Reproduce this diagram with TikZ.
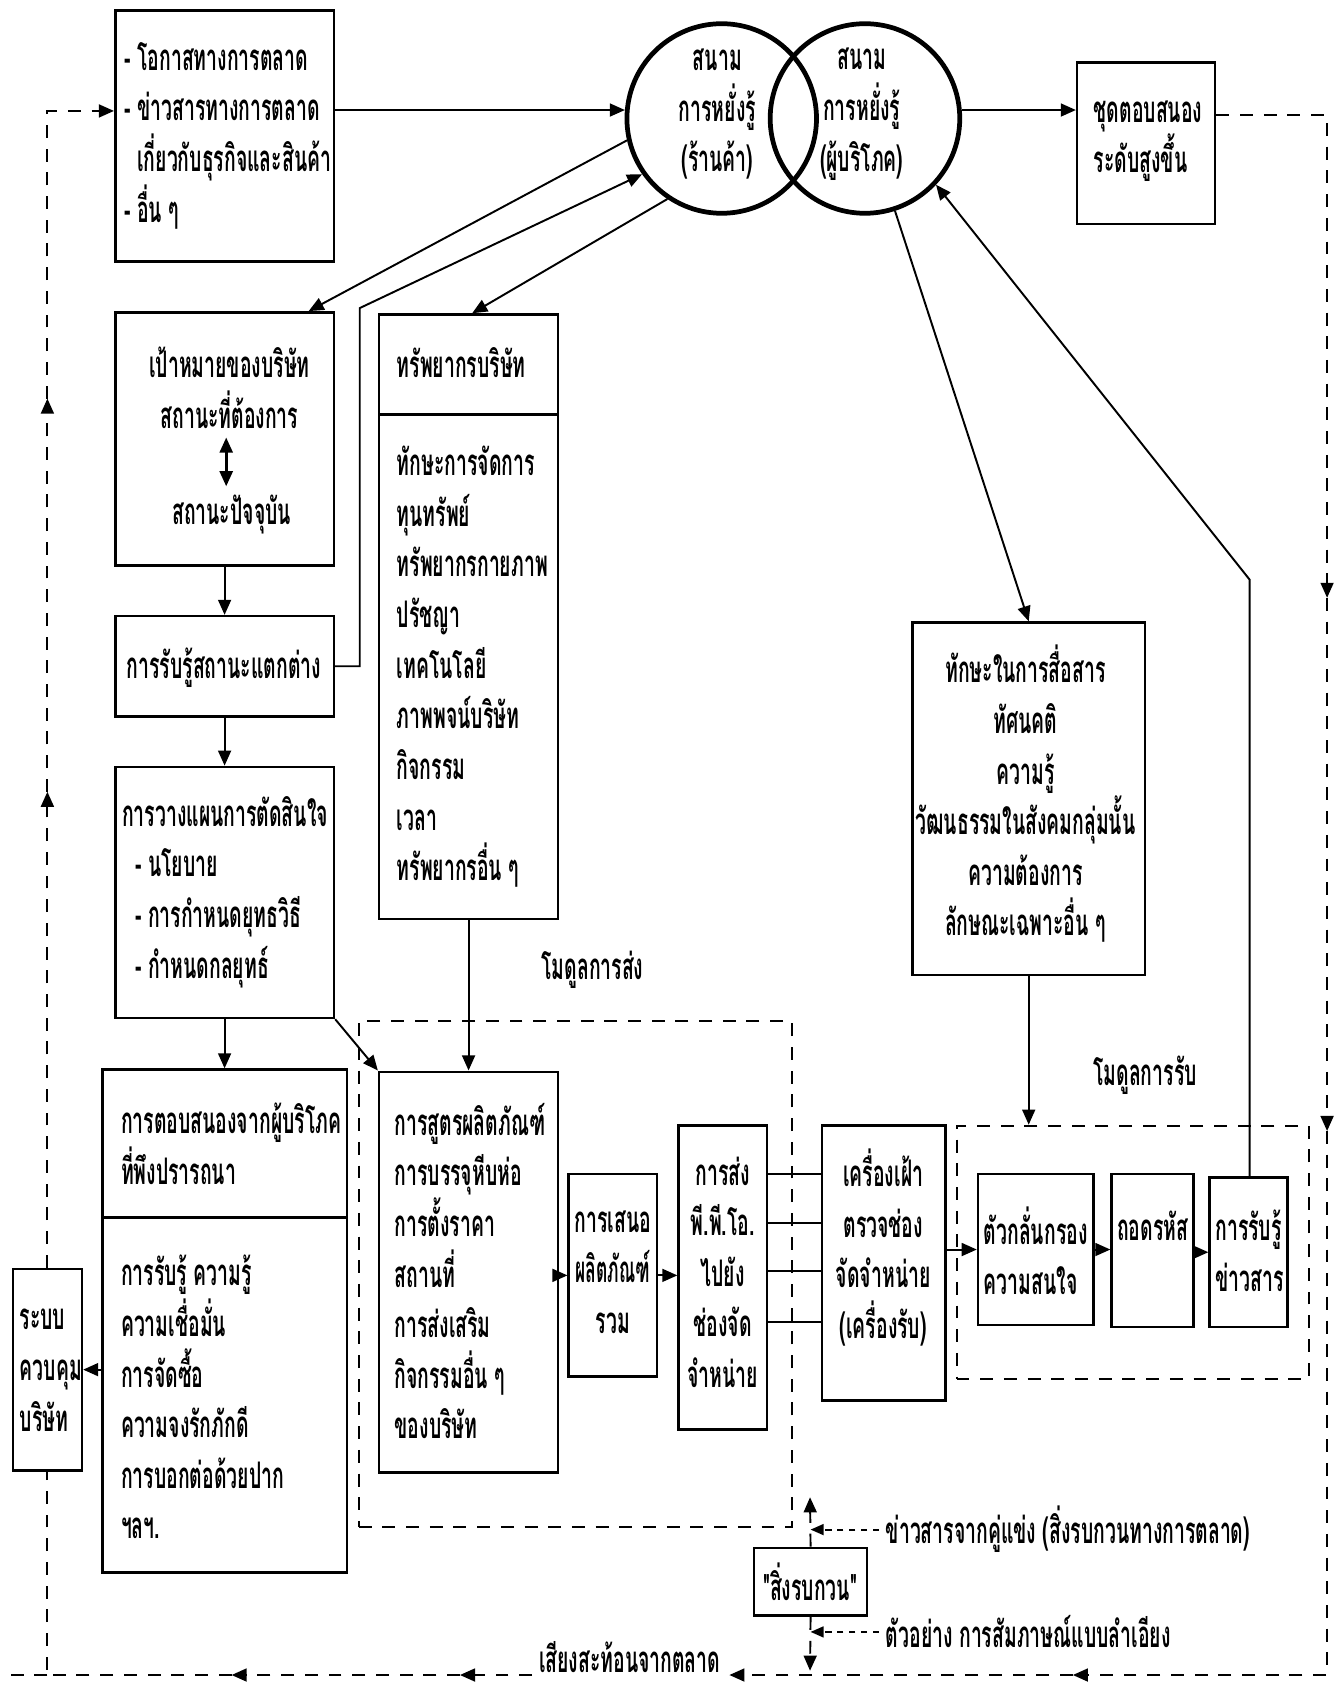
\documentclass[tikz,border=0pt]{standalone}
\usepackage{fontspec}
\usetikzlibrary{arrows.meta,fit,calc}
\newfontfamily\thai[Script=Thai,FakeStretch=0.53]{Loma}
\newcommand{\tf}{\thai\bfseries\fontsize{17}{23.5}\selectfont}
\begin{document}
\begin{tikzpicture}[x=0.5pt,y=-0.5pt,
  box/.style={draw,line width=1.2pt,inner sep=0pt},
  dbox/.style={draw,line width=0.9pt,dash pattern=on 6pt off 5pt,inner sep=0pt},
  txt/.style={font=\tf,inner sep=0pt,align=left},
  ctxt/.style={font=\tf,inner sep=0pt,align=center},
  ln/.style={line width=0.9pt},
  arr/.style={line width=0.9pt,-{Triangle[length=7pt,width=6pt]}},
  darr/.style={line width=0.9pt,dash pattern=on 6pt off 5pt,-{Triangle[length=7pt,width=6pt]}},
  sarr/.style={line width=0.9pt,dash pattern=on 3pt off 2.5pt,-{Triangle[length=6pt,width=5pt]}},
  dln/.style={line width=0.9pt,dash pattern=on 6pt off 5pt},
  ring/.style={circle,draw,line width=2.2pt,minimum size=88pt,inner sep=0pt}]
\useasboundingbox (0,0) rectangle (1247,1568);
\fill[white] (0,0) rectangle (1247,1568);

% top row
\node[box,fit={(107,10)(310,243)}] (tl) {};
\node[txt,anchor=west] (tlt) at (115,126) {- โอกาสทางการตลาด\\- ข่าวสารทางการตลาด\\\phantom{- }เกี่ยวกับธุรกิจและสินค้า\\- อื่น ๆ};
\node[ring] (c1) at (670,110) {};
\node[ring] (c2) at (803,110) {};
\node[ctxt] (c1t) at (666,106) {สนาม\\การหยั่งรู้\\(ร้านค้า)};
\node[ctxt] (c2t) at (800,106) {สนาม\\การหยั่งรู้\\(ผู้บริโภค)};
\node[box,fit={(1000,58)(1128,208)}] (rb) {};
\node[txt,anchor=west] (rbt) at (1015,131) {ชุดตอบสนอง\\ระดับสูงขึ้น};

% left column
\node[box,fit={(107,290)(310,525)}] (gb) {};
\node[ctxt] (g1) at (213,360) {เป้าหมายของบริษัท\\สถานะที่ต้องการ};
\node[ctxt] (g2) at (215,478) {สถานะปัจจุบัน};
\node[box,fit={(107,572)(310,665)}] (pb) {};
\node[ctxt] (pbt) at (208,620) {การรับรู้สถานะแตกต่าง};
\node[box,fit={(107,712)(310,945)}] (pl) {};
\node[txt,anchor=west] (plt) at (113,828) {การวางแผนการตัดสินใจ\\\hspace{6pt}- นโยบาย\\\hspace{6pt}- การกำหนดยุทธวิธี\\\hspace{6pt}- กำหนดกลยุทธ์};

% resources
\node[box,fit={(352,292)(518,385)}] (rh) {};
\node[txt,anchor=west] (rht) at (368,337) {ทรัพยากรบริษัท};
\node[box,fit={(352,385)(518,853)}] (rl) {};
\node[txt,anchor=west] (rlt) at (368,619) {ทักษะการจัดการ\\ทุนทรัพย์\\ทรัพยากรกายภาพ\\ปรัชญา\\เทคโนโลยี\\ภาพพจน์บริษัท\\กิจกรรม\\เวลา\\ทรัพยากรอื่น ๆ};

% skills
\node[box,fit={(847,578)(1063,905)}] (sk) {};
\node[ctxt] (skt) at (952,737) {ทักษะในการสื่อสาร\\ทัศนคติ\\ความรู้\\วัฒนธรรมในสังคมกลุ่มนั้น\\ความต้องการ\\ลักษณะเฉพาะอื่น ๆ};

% response
\node[box,fit={(95,993)(322,1130)}] (rsh) {};
\node[txt,anchor=west] (rsht) at (112,1062) {การตอบสนองจากผู้บริโภค\\ที่พึงปรารถนา};
\node[box,fit={(95,1130)(322,1460)}] (rsl) {};
\node[txt,anchor=west] (rslt) at (112,1297) {การรับรู้ ความรู้\\ความเชื่อมั่น\\การจัดซื้อ\\ความจงรักภักดี\\การบอกต่อด้วยปาก\\ฯลฯ.};
\node[box,fit={(12,1178)(76,1365)}] (ctl) {};
\node[txt,anchor=west] (ctlt) at (18,1272) {ระบบ\\ควบคุม\\บริษัท};

% send module
\node[dbox,fit={(333,948)(735,1418)}] (sm) {};
\node[ctxt] (sml) at (550,900) {โมดูลการส่ง};
\node[box,fit={(352,995)(518,1367)}] (fb) {};
\node[txt,anchor=west] (fbt) at (366,1180) {การสูตรผลิตภัณฑ์\\การบรรจุหีบห่อ\\การตั้งราคา\\สถานที่\\การส่งเสริม\\กิจกรรมอื่น ๆ\\ของบริษัท};
\node[box,fit={(528,1090)(610,1278)}] (of) {};
\node[ctxt] (oft) at (569,1181) {การเสนอ\\\scalebox{0.9}[1]{ผลิตภัณฑ์}\\รวม};
\node[box,fit={(630,1045)(712,1327)}] (sd) {};
\node[ctxt] (sdt) at (671,1181) {การส่ง\\พี.พี.โอ.\\ไปยัง\\ช่องจัด\\จำหน่าย};
\node[box,fit={(763,1045)(878,1300)}] (gk) {};
\node[ctxt] (gkt) at (820,1158) {เครื่องเฝ้า\\ตรวจช่อง\\จัดจำหน่าย\\(เครื่องรับ)};

% receive module
\node[dbox,fit={(888,1045)(1215,1280)}] (rm) {};
\node[ctxt] (rml) at (1063,998) {โมดูลการรับ};
\node[box,fit={(908,1090)(1015,1230)}] (fl) {};
\node[txt,anchor=west] (flt) at (913,1161) {ตัวกลั่นกรอง\\ความสนใจ};
\node[box,fit={(1032,1090)(1108,1232)}] (dc) {};
\node[ctxt] (dct) at (1070,1138) {ถอดรหัส};
\node[box,fit={(1123,1093)(1195,1232)}] (pm) {};
\node[txt,anchor=west] (pmt) at (1128,1161) {การรับรู้\\ข่าวสาร};

% noise
\node[box,fit={(700,1437)(805,1500)}] (nz) {};
\node[ctxt] (nzt) at (752,1468) {"สิ่งรบกวน"};
\node[txt,anchor=west] (n1) at (822,1420) {ข่าวสารจากคู่แข่ง (สิ่งรบกวนทางการตลาด)};
\node[txt,anchor=west] (n2) at (822,1515) {ตัวอย่าง การสัมภาษณ์แบบลำเอียง};
\node[txt,anchor=west] (fbl) at (500,1538) {เสียงสะท้อนจากตลาด};

% solid connectors
\draw[arr] (tl.east |- c1.175) -- (c1.175);
\draw[arr] (c2.5) -- (rb.west |- c2.5);
\draw[arr] (c1.193) -- ($(gb.north west)!0.88!(gb.north east)$);
\coordinate (k1) at (334,286);
\draw[arr] (pb.east) -| (k1) -- (c1.215);
\draw[arr] (c1.236) -- ($(rh.north west)!0.52!(rh.north east)$);
\draw[line width=1.2pt,{Triangle[length=7pt,width=6pt]}-{Triangle[length=7pt,width=6pt]}] (g1.south -| 210,0) ++(0,8) -- ($(g2.north -| 210,0)+(0,-8)$);
\draw[arr] (gb.south) -- (pb.north);
\draw[arr] (pb.south) -- (pl.north);
\draw[arr] (pl.south) -- (rsh.north);
\draw[arr] (pl.south east) -- (fb.north west);
\draw[arr] (rl.south) -- (fb.north);
\draw[arr] (fb.east |- of.west) -- (of.west);
\draw[arr] (of.east) -- (sd.west |- of.east);
\foreach \yy in {1090,1135,1180,1227} \draw[ln] (sd.east |- 0,\yy) -- (gk.west |- 0,\yy);
\draw[arr] (gk.east |- fl.west) -- (fl.west);
\draw[arr] (fl.east) -- (dc.west |- fl.east);
\draw[arr] (dc.east |- pm.west) -- (pm.west);
\coordinate (k2) at (1160,538);
\draw[arr] (pm.north -| k2) -- (k2) -- (c2.317);
\draw[arr] (c2.288) -- (sk.north);
\draw[arr] (sk.south) -- (rm.north -| sk.south);
\draw[arr] (rsl.west |- ctl.east) -- (ctl.east);

% feedback loop
\coordinate (r1) at (1232,107);
\coordinate (r2) at (1232,555);
\coordinate (r3) at (1232,1050);
\coordinate (r4) at (1232,1555);
\coordinate (b1) at (996,1555);
\coordinate (b2) at (427,1555);
\coordinate (b3) at (215,1555);
\coordinate (l0) at (44,1555);
\coordinate (l1) at (44,735);
\coordinate (l2) at (44,370);
\coordinate (l3) at (44,103);
\coordinate (l4) at (5,1555);
\draw[darr] (rb.east |- r1) -- (r1) -- (r2);
\draw[darr] (r2) -- (r3);
\draw[darr] (r3) -- (r4) -- (b1);
\draw[darr] (b1) -- ([xshift=4pt]fbl.east |- b1);
\draw[darr] ([xshift=-3pt]fbl.west |- b1) -- (b2);
\draw[darr] (b2) -- (b3);
\draw[dln] (b3) -- (l0) -- (ctl.south);
\draw[dln] (l0) -- (l4);
\draw[darr] (ctl.north) -- (l1);
\draw[darr] (l1) -- (l2);
\draw[darr] (l2) -- (l3) -- (tl.west |- l3);

% noise connectors
\coordinate (nu) at (752,1390);
\coordinate (nd) at (752,1551);
\draw[darr] (nz.north) -- (nu);
\draw[darr] (nz.south) -- (nd);
\draw[sarr] ([xshift=-3pt]n1.west) -- (nz.north |- n1.west);
\draw[sarr] ([xshift=-3pt]n2.west) -- (nz.south |- n2.west);
\end{tikzpicture}
\end{document}
